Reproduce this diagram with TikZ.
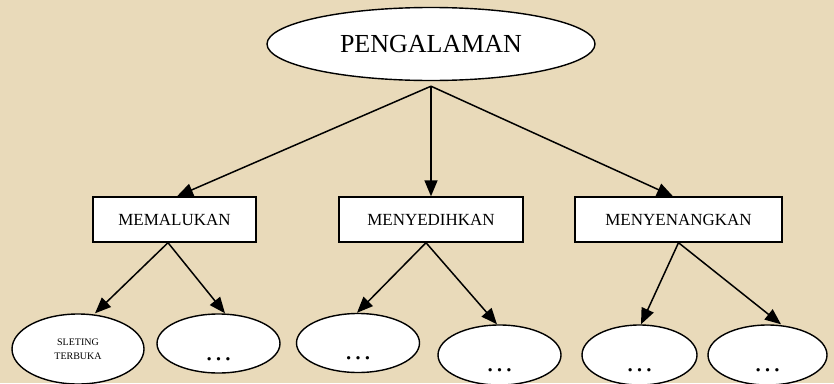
\documentclass[tikz,border=0pt]{standalone}
\usepackage{fontspec}
\setmainfont{Liberation Serif}
\usetikzlibrary{shapes.geometric,arrows.meta,calc}
\definecolor{bg}{RGB}{233,218,186}
\begin{document}
\begin{tikzpicture}[x=1pt,y=-1pt,
 every node/.style={inner sep=0pt},
 oval/.style={draw,fill=white,ellipse,line width=1.4pt},
 box/.style={draw,fill=white,rectangle,line width=1.4pt,minimum height=45pt,font=\fontsize{17}{20}\selectfont},
 link/.style={line width=1.5pt,-{Triangle[length=16pt,width=13pt]}},
 dots/.style={font=\fontsize{28}{30}\selectfont,anchor=base}]
\fill[bg] (0,0) rectangle (834,383);
\useasboundingbox (0,0) rectangle (834,383);
\node[oval,minimum width=328pt,minimum height=73pt,font=\fontsize{26}{30}\selectfont] (p) at (431,44) {PENGALAMAN};
\node[box,minimum width=163pt] (b1) at (174.5,219.5) {MEMALUKAN};
\node[box,minimum width=184pt] (b2) at (431,219.5) {MENYEDIHKAN};
\node[box,minimum width=207pt] (b3) at (678.5,219.5) {MENYENANGKAN};
\node[oval,minimum width=132pt,minimum height=70pt] (e1) at (78,349) {};
\node[oval,minimum width=123pt,minimum height=59pt] (e2) at (218.5,343.5) {};
\node[oval,minimum width=123pt,minimum height=59pt] (e3) at (358,343) {};
\node[oval,minimum width=123pt,minimum height=60pt] (e4) at (499.5,355) {};
\node[oval,minimum width=115pt,minimum height=60pt] (e5) at (639.5,355) {};
\node[oval,minimum width=119pt,minimum height=60pt] (e6) at (767.5,355) {};
\node[align=center,font=\fontsize{10}{14}\selectfont] (t1) at (e1.center) {SLETING\\TERBUKA};
\node[dots] (d2) at ([yshift=-16.5pt]e2.center) {…};
\node[dots] (d3) at ([yshift=-16.5pt]e3.center) {…};
\node[dots] (d4) at ([yshift=-16pt]e4.center) {…};
\node[dots] (d5) at ([yshift=-16pt]e5.center) {…};
\node[dots] (d6) at ([yshift=-16pt]e6.center) {…};
\coordinate (hub) at ([yshift=-5pt]p.south);
\draw[link] (hub) -- ([xshift=2.5pt]b1.north);
\draw[link] (hub) -- (b2.north);
\draw[link] (hub) -- ([xshift=-5.5pt]b3.north);
\draw[link] ([xshift=-6.5pt]b1.south) -- ([xshift=17pt]e1.north);
\draw[link] ([xshift=-6.5pt]b1.south) -- ([xshift=6.5pt]e2.north);
\draw[link] ([xshift=-5pt]b2.south) -- ([xshift=-1pt]e3.north);
\draw[link] ([xshift=-5pt]b2.south) -- ([xshift=-2.5pt]e4.north);
\draw[link] (b3.south) -- ([xshift=1.5pt]e5.north);
\draw[link] (b3.south) -- ([xshift=13.5pt]e6.north);
\end{tikzpicture}
\end{document}
